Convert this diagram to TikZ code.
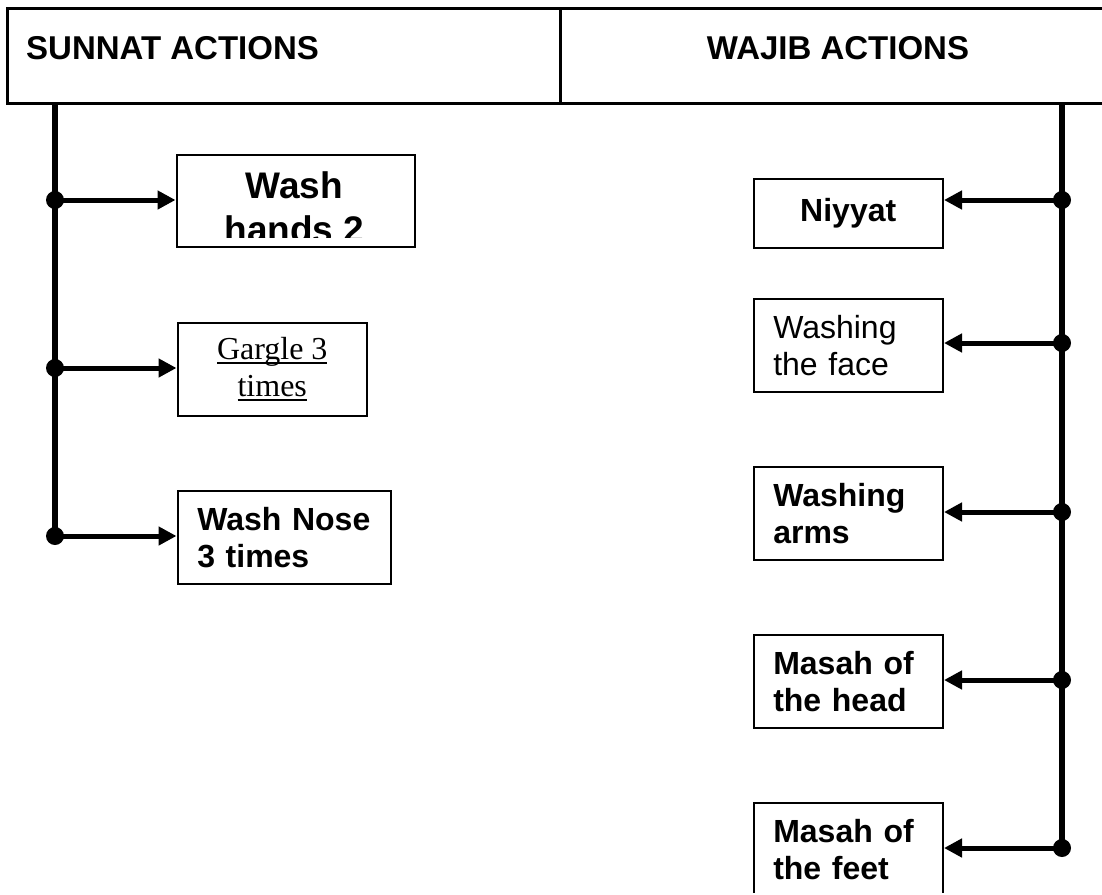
\documentclass[tikz,border=0pt]{standalone}
\usepackage{fontspec}
\setmainfont{Liberation Sans}
\newfontfamily\serifface{Liberation Serif}
\usetikzlibrary{arrows.meta}
\newcommand{\headfont}{\fontsize{33}{40}\selectfont\bfseries}
\newcommand{\boxfont}{\fontsize{32}{37}\selectfont}
\newcommand{\bigboxfont}{\fontsize{37}{44}\selectfont\bfseries}
\newcommand{\lined}[1]{\setbox0=\hbox{#1}\rlap{\rule[-4.5pt]{\wd0}{2.2pt}}\box0}

\begin{document}
\begin{tikzpicture}[
  x=1pt,y=-1pt,
  headcell/.style={draw,line width=2.5pt,minimum height=95pt,anchor=north west,inner sep=0pt},
  headtext/.style={font=\headfont,inner sep=0pt},
  actbox/.style={draw,line width=2.5pt,inner xsep=19.5pt,inner ysep=0pt,
                 minimum height=93pt,anchor=north west,font=\boxfont},
  spine/.style={line width=6pt},
  branch/.style={line width=5pt,-{Triangle[length=18pt,width=18pt]}},
  joint/.style={circle,fill,inner sep=0pt,minimum size=18pt}
]
\useasboundingbox (0,0) rectangle (1102,894);
\clip (0,0) rectangle (1102,892);

% header table
\node[headcell,minimum width=553pt] (sunnat) at (6,7) {};
\node[headcell,minimum width=600pt] (wajib) at (559,7) {};
\node[headtext,anchor=base west] (sunnatlbl) at (26,59) {SUNNAT ACTIONS};
\node[headtext,anchor=base] (wajiblbl) at (838,59) {WAJIB ACTIONS};

% sunnat side
\node[actbox,minimum width=238pt,minimum height=92pt] (hands) at (175.5,153.5) {};
\begin{scope}
  \clip (176,154) rectangle (414,237);
  \node[font=\bigboxfont,align=center,inner sep=0pt,anchor=north] (handstxt) at (294.5,171) {Wash\\hands 2};
\end{scope}
\node[actbox,minimum width=189pt,align=center,font=\boxfont\serifface] (gargle) at (176.5,321.5)
  {\lined{Gargle 3}\\\lined{times}};
\node[actbox,minimum width=213pt,text width=174pt,align=left,font=\boxfont\bfseries] (nose) at (176.5,489.5)
  {Wash Nose\\3 times};

\coordinate (stop) at (55,102);
\node[joint] (s1) at (55,200) {};
\node[joint] (s2) at (55,368) {};
\node[joint] (s3) at (55,536) {};
\draw[spine] (stop) -- (s3.center);
\foreach \j/\b in {s1/hands,s2/gargle,s3/nose}
  \draw[branch] (\j.center) -- (\j.center -| \b.west);

% wajib side
\node[actbox,minimum width=189pt,minimum height=69pt,align=center,font=\boxfont\bfseries] (niyyat) at (752.5,177.5) {Niyyat};
\node[actbox,minimum width=189pt,text width=150pt,align=left] (face) at (752.5,297.5) {Washing\\the face};
\node[actbox,minimum width=189pt,text width=150pt,align=left,font=\boxfont\bfseries] (arms) at (752.5,465.5) {Washing\\arms};
\node[actbox,minimum width=189pt,text width=150pt,align=left,font=\boxfont\bfseries] (head) at (752.5,633.5) {Masah of\\the head};
\node[actbox,minimum width=189pt,text width=150pt,align=left,font=\boxfont\bfseries] (feet) at (752.5,801.5) {Masah of\\the feet};

\coordinate (wtop) at (1062,102);
\node[joint] (w1) at (1062,200) {};
\node[joint] (w2) at (1062,343) {};
\node[joint] (w3) at (1062,512) {};
\node[joint] (w4) at (1062,680) {};
\node[joint] (w5) at (1062,848) {};
\draw[spine] (wtop) -- (w5.center);
\foreach \j/\b in {w1/niyyat,w2/face,w3/arms,w4/head,w5/feet}
  \draw[branch] (\j.center) -- (\j.center -| \b.east);
\end{tikzpicture}
\end{document}
